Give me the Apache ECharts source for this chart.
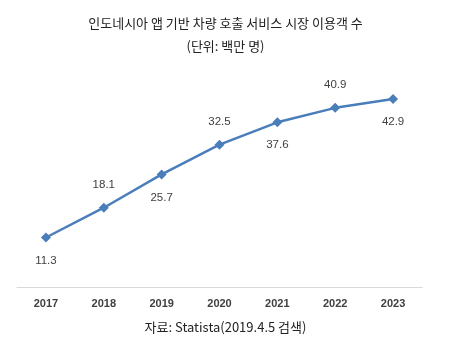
<!DOCTYPE html>
<html><head><meta charset="utf-8">
<script src="https://cdn.jsdelivr.net/npm/echarts@6/dist/echarts.min.js"></script>
<style>html,body{margin:0;padding:0;background:#fff}#c{width:451px;height:348px}</style>
</head><body><div id="c"></div>
<script>
const categories = ['2017','2018','2019','2020','2021','2022','2023'];
const values = [11.3, 18.1, 25.7, 32.5, 37.6, 40.9, 42.9];
const labelPos = ['bottom','top','bottom','top','bottom','top','bottom'];
const titleText = '인도네시아 앱 기반 차량 호출 서비스 시장 이용객 수';
const subtitleText = '(단위: 백만 명)';
const sourceText = '자료: Statista(2019.4.5 검색)';

const chart = echarts.init(document.getElementById('c'));
chart.setOption({
  backgroundColor: '#fff',
  title: [
    {text: titleText, left: 'center', top: 12, textStyle: {fontFamily: 'Noto Sans CJK KR', fontSize: 13, fontWeight: 'normal', color: '#222'}},
    {text: subtitleText, left: 'center', top: 35, textStyle: {fontFamily: 'Noto Sans CJK KR', fontSize: 13, fontWeight: 'normal', color: '#222'}},
    {text: sourceText, left: 'center', top: 316, textStyle: {fontFamily: 'Noto Sans CJK KR', fontSize: 13, fontWeight: 'normal', color: '#222'}}
  ],
  grid: {left: 17, right: 29, top: 68, bottom: 61},
  xAxis: {
    type: 'category', data: categories, boundaryGap: true,
    axisLine: {lineStyle: {color: '#d9d9d9', width: 1}},
    axisTick: {show: false},
    axisLabel: {color: '#404040', fontSize: 11, fontWeight: 'bold', fontFamily: 'Liberation Sans', margin: 11}
  },
  yAxis: {type: 'value', min: 0, max: 50, show: false, splitLine: {show: false}},
  series: [{
    type: 'line', data: values.map((v, i) => ({value: v, label: {position: labelPos[i]}})),
    symbol: 'diamond', symbolSize: 10,
    lineStyle: {color: '#4a7ebb', width: 2.5},
    itemStyle: {color: '#4a7ebb'},
    label: {show: true, distance: 12, color: '#404040', fontSize: 11.5, fontWeight: 'normal', fontFamily: 'Liberation Sans'},
    animation: false
  }]
});
</script></body></html>
